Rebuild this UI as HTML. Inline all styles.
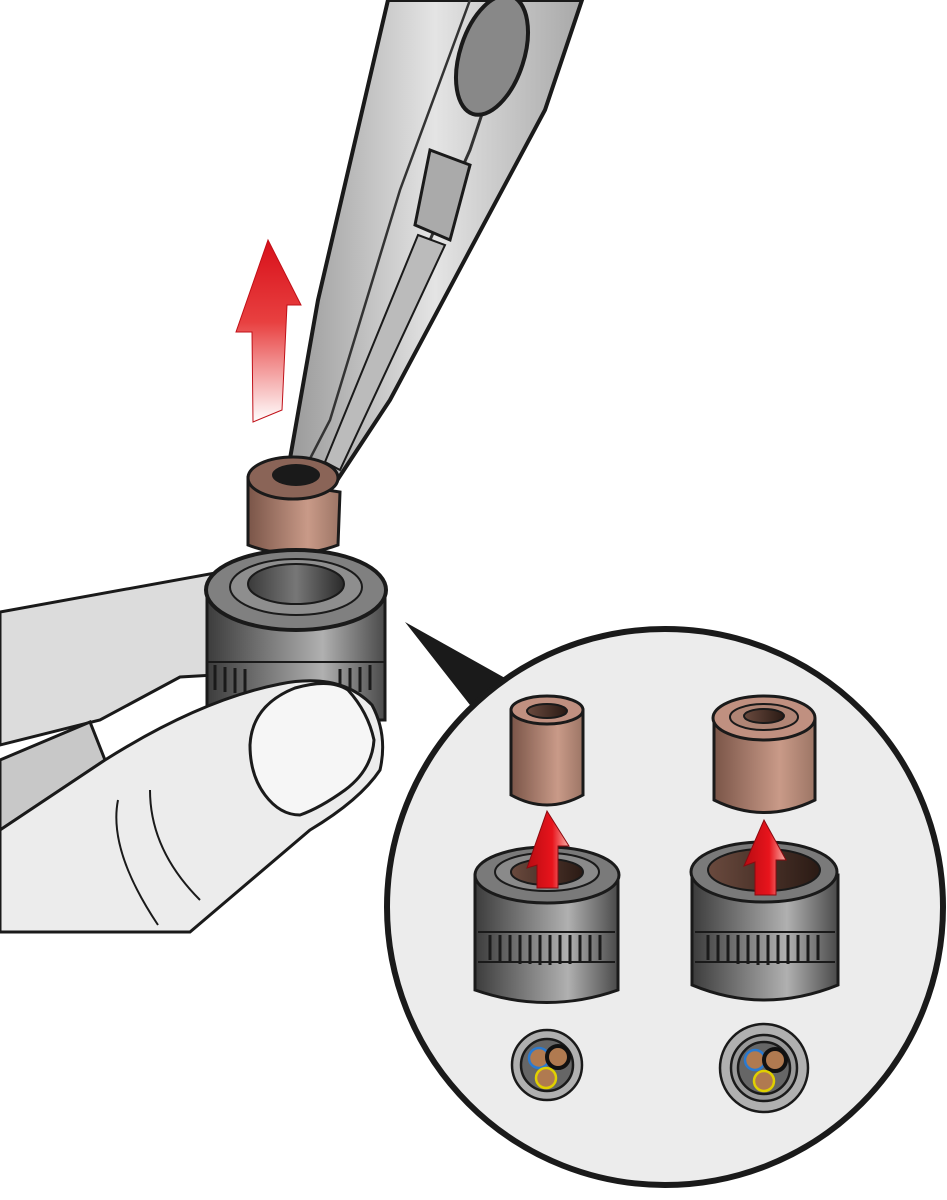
<!DOCTYPE html>
<html><head><meta charset="utf-8"><style>html,body{margin:0;padding:0;background:#fff}svg{display:block}</style></head>
<body>
<svg width="947" height="1200" viewBox="0 0 947 1200" xmlns="http://www.w3.org/2000/svg">
<defs>
<linearGradient id="red" x1="0" y1="0" x2="0" y2="1"><stop offset="0" stop-color="#d8101a"/><stop offset="0.45" stop-color="#e84040"/><stop offset="1" stop-color="#fff"/></linearGradient>
<linearGradient id="redh" x1="0" y1="0" x2="1" y2="0"><stop offset="0" stop-color="#b80c12"/><stop offset="0.6" stop-color="#e8141c"/><stop offset="1" stop-color="#f7b0a8"/></linearGradient>
<linearGradient id="brown" x1="0" y1="0" x2="1" y2="0"><stop offset="0" stop-color="#7a5548"/><stop offset="0.65" stop-color="#c99a88"/><stop offset="1" stop-color="#9c7565"/></linearGradient>
<linearGradient id="gray" x1="0" y1="0" x2="1" y2="0"><stop offset="0" stop-color="#3c3c3c"/><stop offset="0.65" stop-color="#b0b0b0"/><stop offset="1" stop-color="#4a4a4a"/></linearGradient>
<linearGradient id="hole" x1="0" y1="0" x2="1" y2="0"><stop offset="0" stop-color="#6a4a3e"/><stop offset="1" stop-color="#2a1a14"/></linearGradient>
<linearGradient id="ghole" x1="0" y1="0" x2="1" y2="0"><stop offset="0" stop-color="#3a3a3a"/><stop offset="0.5" stop-color="#777"/><stop offset="1" stop-color="#2a2a2a"/></linearGradient>
<linearGradient id="steel" x1="0" y1="0" x2="1" y2="0"><stop offset="0" stop-color="#999"/><stop offset="0.5" stop-color="#e4e4e4"/><stop offset="1" stop-color="#a8a8a8"/></linearGradient>
</defs>

<!-- pliers -->
<path d="M388,0 L582,0 L545,110 L470,250 L390,400 L336,482 L298,488 L288,470 L318,300 Z" fill="url(#steel)" stroke="#1a1a1a" stroke-width="4"/>
<path d="M470,0 L400,190 L330,420 L300,478" fill="none" stroke="#333" stroke-width="2.5"/>
<path d="M520,0 L470,150 L390,330 L320,478" fill="none" stroke="#333" stroke-width="3"/>
<ellipse cx="492" cy="55" rx="32" ry="62" transform="rotate(18 492 55)" fill="#888" stroke="#1a1a1a" stroke-width="4"/>
<path d="M430,150 L470,165 L450,240 L415,225 Z" fill="#aaa" stroke="#1a1a1a" stroke-width="3"/>
<path d="M418,235 L445,245 L340,470 L325,462 Z" fill="#bbb" stroke="#1a1a1a" stroke-width="2"/>

<!-- red arrow -->
<path d="M268,240 L301,305 L287,305 L282,410 L253,422 L252,332 L236,332 Z" fill="url(#red)" stroke="#c01018" stroke-width="1"/>

<!-- hand -->
<path d="M0,612 L215,573 L215,675 L180,677 L100,720 L0,745 Z" fill="#dcdcdc" stroke="#1a1a1a" stroke-width="3"/>
<path d="M0,760 L90,722 L105,760 L0,830 Z" fill="#c8c8c8" stroke="#1a1a1a" stroke-width="3"/>

<!-- brown sleeve -->
<path d="M248,478 L248,545 Q292,562 338,545 L340,492 Z" fill="url(#brown)" stroke="#1a1a1a" stroke-width="3"/>
<ellipse cx="293" cy="478" rx="45" ry="21" fill="#8a6457" stroke="#1a1a1a" stroke-width="3"/>
<ellipse cx="296" cy="475" rx="24" ry="11" fill="#1a1a1a"/>

<!-- gray connector main -->
<path d="M207,595 L207,720 L385,720 L385,595 Z" fill="url(#gray)" stroke="#1a1a1a" stroke-width="3"/>
<g stroke="#1a1a1a" stroke-width="3"><path d="M215,665 V690 M225,667 V692 M235,668 V693 M245,669 V694 M340,669 V694 M350,668 V693 M360,667 V692 M370,665 V690"/></g>
<path d="M207,662 L385,662" stroke="#1a1a1a" stroke-width="2"/>
<ellipse cx="296" cy="590" rx="90" ry="40" fill="#808080" stroke="#1a1a1a" stroke-width="4"/>
<ellipse cx="296" cy="587" rx="66" ry="28" fill="#8e8e8e" stroke="#1a1a1a" stroke-width="2"/>
<ellipse cx="296" cy="584" rx="48" ry="20" fill="url(#ghole)" stroke="#1a1a1a" stroke-width="2"/>

<!-- thumb -->
<path d="M0,830 L105,760 Q200,700 280,684 Q340,672 372,705 Q388,735 380,770 Q360,800 310,830 L190,932 L0,932 Z" fill="#ececec" stroke="#1a1a1a" stroke-width="3"/>
<path d="M295,688 Q330,678 348,690 Q368,712 374,740 Q372,770 345,790 Q320,808 300,815 Q280,815 265,795 Q250,775 250,745 Q252,705 295,688 Z" fill="#f6f6f6" stroke="#1a1a1a" stroke-width="3"/>
<path d="M118,800 Q108,850 158,925 M150,790 Q150,850 200,900" fill="none" stroke="#1a1a1a" stroke-width="2"/>

<!-- callout -->
<path d="M405,622 L505,678 L470,705 Z" fill="#1a1a1a"/>
<circle cx="665" cy="907" r="278" fill="#ececec" stroke="#1a1a1a" stroke-width="6"/>

<!-- left detail -->
<path d="M511,710 L511,795 Q547,815 583,795 L583,710 Z" fill="url(#brown)" stroke="#1a1a1a" stroke-width="3"/>
<ellipse cx="547" cy="710" rx="36" ry="14" fill="#c09080" stroke="#1a1a1a" stroke-width="3"/>
<ellipse cx="547" cy="711" rx="20" ry="7" fill="url(#hole)" stroke="#1a1a1a" stroke-width="2"/>
<path d="M475,875 L475,990 Q547,1015 618,990 L618,875 Z" fill="url(#gray)" stroke="#1a1a1a" stroke-width="3"/>
<path d="M478,932 L615,932 M478,962 L615,962" stroke="#1a1a1a" stroke-width="2"/>
<g stroke="#1a1a1a" stroke-width="3">
<path d="M490,935 V960 M500,935 V962 M510,935 V963 M520,935 V964 M530,935 V964 M540,935 V965 M550,935 V965 M560,935 V964 M570,935 V964 M580,935 V963 M590,935 V962 M600,935 V960"/></g>
<ellipse cx="547" cy="875" rx="72" ry="28" fill="#7a7a7a" stroke="#1a1a1a" stroke-width="3"/>
<ellipse cx="547" cy="872" rx="52" ry="19" fill="#8a8a8a" stroke="#1a1a1a" stroke-width="2"/>
<ellipse cx="547" cy="872" rx="36" ry="13" fill="url(#hole)" stroke="#1a1a1a" stroke-width="2"/>
<path d="M547,811 L569,846 L558,846 L558,888 L537,888 L537,865 L527,868 Z" fill="url(#redh)" stroke="#8a0a10" stroke-width="1"/>

<!-- right detail -->
<path d="M714,720 L714,800 Q764,825 815,800 L815,720 Z" fill="url(#brown)" stroke="#1a1a1a" stroke-width="3"/>
<ellipse cx="764" cy="718" rx="51" ry="22" fill="#c09080" stroke="#1a1a1a" stroke-width="3"/>
<ellipse cx="764" cy="717" rx="34" ry="13" fill="#b08575" stroke="#1a1a1a" stroke-width="2"/>
<ellipse cx="764" cy="716" rx="20" ry="7" fill="url(#hole)" stroke="#1a1a1a" stroke-width="2"/>
<path d="M692,875 L692,985 Q764,1015 838,985 L838,875 Z" fill="url(#gray)" stroke="#1a1a1a" stroke-width="3"/>
<path d="M695,932 L835,932 M695,962 L835,962" stroke="#1a1a1a" stroke-width="2"/>
<g stroke="#1a1a1a" stroke-width="3">
<path d="M708,935 V960 M718,935 V962 M728,935 V963 M738,935 V964 M748,935 V964 M758,935 V965 M768,935 V965 M778,935 V964 M788,935 V964 M798,935 V963 M808,935 V962 M818,935 V960"/></g>
<ellipse cx="764" cy="872" rx="73" ry="30" fill="#7a7a7a" stroke="#1a1a1a" stroke-width="3"/>
<ellipse cx="764" cy="870" rx="56" ry="21" fill="url(#hole)" stroke="#1a1a1a" stroke-width="2"/>
<path d="M764,820 L786,860 L776,860 L776,895 L755,895 L755,862 L744,866 Z" fill="url(#redh)" stroke="#8a0a10" stroke-width="1"/>

<!-- cables -->
<g stroke="#1a1a1a" stroke-width="2.5">
<circle cx="547" cy="1065" r="35" fill="#b0b0b0"/>
<circle cx="547" cy="1065" r="26" fill="#666"/>
<circle cx="539" cy="1058" r="10" fill="#b07a50" stroke="#2a7ad0"/>
<circle cx="558" cy="1057" r="11" fill="#b07a50" stroke="#111" stroke-width="4"/>
<circle cx="546" cy="1078" r="10" fill="#b07a50" stroke="#e0d000"/>
<circle cx="764" cy="1068" r="44" fill="#b0b0b0"/>
<circle cx="764" cy="1068" r="33" fill="#999"/>
<circle cx="764" cy="1068" r="26" fill="#666"/>
<circle cx="755" cy="1060" r="10" fill="#b07a50" stroke="#2a7ad0"/>
<circle cx="775" cy="1060" r="11" fill="#b07a50" stroke="#111" stroke-width="4"/>
<circle cx="764" cy="1081" r="10" fill="#b07a50" stroke="#e0d000"/>
</g>
</svg>
</body></html>
